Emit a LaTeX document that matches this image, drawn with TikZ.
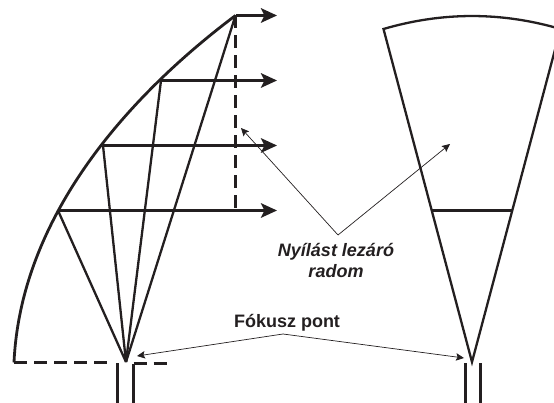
\documentclass[tikz,border=0pt]{standalone}
\usepackage{fontspec}
\setmainfont{Liberation Sans}
\usetikzlibrary{arrows.meta}

\begin{document}
\begin{tikzpicture}[x=1pt,y=-1pt]
		\definecolor{mycolor1}{RGB}{35,31,32}
		\tikzset{
			beam/.style={draw=mycolor1,line width=2.6pt,-{Stealth[length=16pt,width=14.5pt,inset=3.5pt]}},
			rib/.style={draw=mycolor1,line width=2.3pt},
			hullline/.style={draw=mycolor1,line width=2.8pt},
			dashline/.style={draw=mycolor1,line width=2.8pt,dash pattern=on 13pt off 7pt},
			pointer/.style={draw=mycolor1,line width=0.7pt,-{Stealth[length=8pt,width=7.5pt,inset=1.5pt]}},
			caption/.style={text=mycolor1,font=\bfseries\fontsize{18pt}{21pt}\selectfont,inner sep=0pt}
		}
		\useasboundingbox (0,0) rectangle (554,403);
		\clip (0,0) rectangle (554,403);

		\coordinate (rimtop) at (235.5,15.5);
		\coordinate (rimb) at (161,80.5);
		\coordinate (rimc) at (103,145.5);
		\coordinate (rimd) at (58,210.5);
		\coordinate (rimend) at (14,362.5);
		\coordinate (rimctrl1) at (20,230);
		\coordinate (rimctrl2) at (110,110);
		\coordinate (focus1) at (126,362);
		\coordinate (focus2) at (472,362);

		\coordinate (exita) at (277,15.5);
		\coordinate (exitb) at (277,80.5);
		\coordinate (exitc) at (277,145.5);
		\coordinate (exitd) at (277,210.5);
		\coordinate (radomend) at (235.5,210.5);

		\coordinate (sectl) at (383.5,29);
		\coordinate (sectr) at (560.5,29);
		\coordinate (ctrl1) at (442.5,11.7);
		\coordinate (ctrl2) at (501.5,11.7);
		\coordinate (barl) at (431.5,210.5);
		\coordinate (barr) at (513,210.5);

		\coordinate (flangel) at (110,362.5);
		\coordinate (flanger) at (133.5,363.5);
		\coordinate (flangee) at (167,363.5);
		\coordinate (guide1a) at (117.5,363);
		\coordinate (guide1b) at (117.5,403);
		\coordinate (guide2b) at (133.5,403);
		\coordinate (guide3a) at (465.5,363);
		\coordinate (guide3b) at (465.5,403);
		\coordinate (guide4a) at (480.5,363);
		\coordinate (guide4b) at (480.5,403);

		\coordinate (kneerad) at (338,235);
		\coordinate (tiprad1) at (241,128);
		\coordinate (tiprad2) at (450,144);
		\coordinate (kneefoc) at (283,334);
		\coordinate (tipfoc1) at (137,356);
		\coordinate (tipfoc2) at (464,358);

		\draw[hullline] (rimend) .. controls (rimctrl1) and (rimctrl2) .. (rimtop);

		\draw[rib] (rimtop) -- (focus1);
		\draw[rib] (rimb) -- (focus1);
		\draw[rib] (rimc) -- (focus1);
		\draw[rib] (rimd) -- (focus1);

		\draw[beam] (rimtop) -- (exita);
		\draw[beam] (rimb) -- (exitb);
		\draw[beam] (rimc) -- (exitc);
		\draw[beam] (rimd) -- (exitd);

		\draw[dashline] (rimtop) -- (radomend);
		\draw[dashline] (rimend) -- (flangel);
		\draw[dashline] (flanger) -- (flangee);

		\draw[rib] (guide1a) -- (guide1b);
		\draw[rib] (flanger) -- (guide2b);

		\draw[rib,line join=miter] (focus2) -- (sectl) .. controls (ctrl1) and (ctrl2) .. (sectr) -- cycle;
		\draw[hullline] (barl) -- (barr);
		\draw[rib] (guide3a) -- (guide3b);
		\draw[rib] (guide4a) -- (guide4b);

		\draw[pointer] (kneerad) -- (tiprad1);
		\draw[pointer] (kneerad) -- (tiprad2);
		\draw[pointer] (kneefoc) -- (tipfoc1);
		\draw[pointer] (kneefoc) -- (tipfoc2);

		\node[caption,font=\bfseries\itshape\fontsize{18pt}{21pt}\selectfont,align=center] (radomtext) at (336,260.5) {Nyílást lezáró\\radom};
		\node[caption] (focustext) at (287,323) {Fókusz pont};
\end{tikzpicture}
\end{document}
